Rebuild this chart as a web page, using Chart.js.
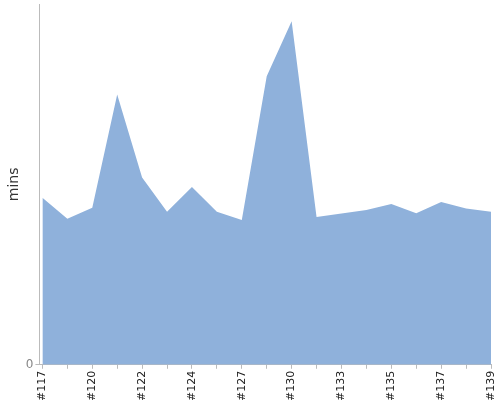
<!DOCTYPE html>
<html>
<head>
<meta charset="utf-8">
<script src="https://cdn.jsdelivr.net/npm/chart.js@4"></script>
<style>
  html, body { margin: 0; padding: 0; background: #fff; }
  #wrap { width: 500px; height: 400px; }
</style>
</head>
<body>
<div id="wrap"><canvas id="build-chart"></canvas></div>
<script>
// build numbers along the x axis (only every other one is labelled)
var builds = ["#117", "#118", "#120", "#121", "#122", "#123", "#124", "#125", "#127", "#128",
              "#130", "#131", "#133", "#134", "#135", "#136", "#137", "#138", "#139"];
// build duration in minutes
var minutes = [9.26, 8.09, 8.71, 14.99, 10.38, 8.48, 9.86, 8.48, 8.02, 15.99,
               19.05, 8.19, 8.38, 8.58, 8.91, 8.40, 9.02, 8.67, 8.48];
var yTicks = [0];

var points = builds.map(function (b, i) { return { x: i, y: minutes[i] }; });

new Chart(document.getElementById("build-chart"), {
    type: 'line',
    data: {
      datasets: [
        {
          label: "mins",
          data: points,
          fill: 'origin',
          backgroundColor: '#8fb1db',
          borderWidth: 0,
          pointRadius: 0,
          tension: 0
        }
      ]
    },
    options: {
      responsive: true,
      maintainAspectRatio: false,
      animation: false,
      layout: { padding: { top: 4, right: 9, left: 6, bottom: -3 } },
      plugins: {
        legend: { display: false },
        tooltip: { enabled: false }
      },
      scales: {
        x: {
          type: 'linear',
          min: -0.12,
          max: builds.length - 1,
          afterBuildTicks: function (scale) {
            scale.ticks = builds.map(function (b, i) { return { value: i }; });
          },
          afterFit: function (scale) {
            scale.paddingRight = 0;
          },
          ticks: {
            autoSkip: false,
            minRotation: 90,
            maxRotation: 90,
            padding: 2,
            color: '#222',
            font: { family: 'DejaVu Sans', size: 11 },
            callback: function (value) {
              return value % 2 === 0 ? builds[value] : '';
            }
          },
          grid: { drawOnChartArea: false, tickLength: 4, color: '#bbb' },
          border: { color: '#bbb' }
        },
        y: {
          min: 0,
          max: 20,
          afterBuildTicks: function (scale) {
            scale.ticks = yTicks.map(function (v) { return { value: v }; });
          },
          afterFit: function (scale) {
            scale.paddingTop = 0;
          },
          ticks: {
            color: '#888',
            padding: 2,
            font: { family: 'DejaVu Sans', size: 12 }
          },
          grid: { drawOnChartArea: false, tickLength: 4, color: '#bbb' },
          border: { color: '#bbb' },
          title: {
            display: true,
            text: 'mins',
            color: '#333',
            font: { family: 'DejaVu Sans', size: 14 },
            padding: { top: 0, bottom: 1 }
          }
        }
      }
    }
});
</script>
</body>
</html>
